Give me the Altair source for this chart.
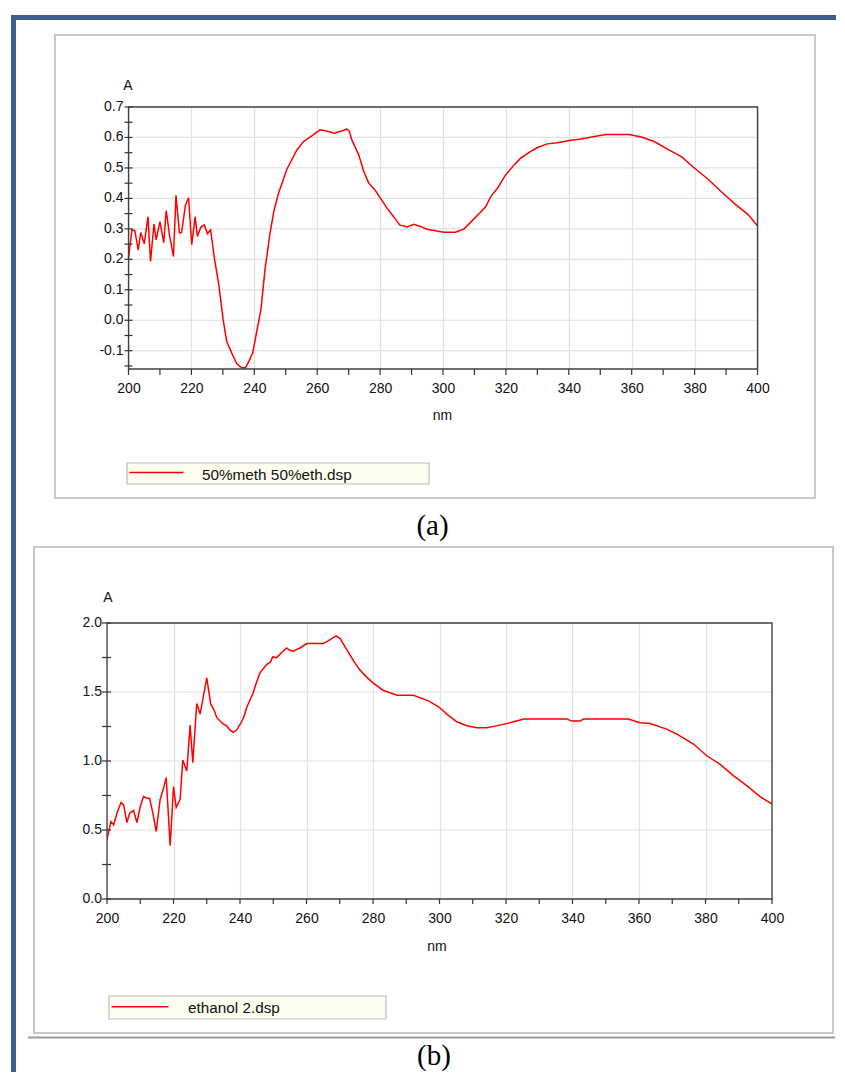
import altair as alt
import pandas as pd

# ---------------- data ----------------
wl_a = [200, 201.1, 202, 203.1, 203.9, 205, 206.2, 207, 208.1, 208.8, 210, 211.2, 212, 213.1,
        214.3, 215.1, 216.2, 216.9, 218.1, 219.1, 220.1, 221.2, 221.9, 223, 224.1, 225.1, 226.1,
        227.4, 228.7, 230.1, 231.2, 232.8, 234.4, 236, 237.2, 238.3, 239.5, 240.7, 242.1, 243.4,
        245, 246.3, 247.7, 249, 250.3, 251.9, 253.5, 255.6, 258.3, 260.9, 263.0, 265.4, 267.8,
        269.4, 270.2, 271, 273.2, 274.8, 276.4, 278.5, 280.1, 282.2, 284.3, 286.2, 288.6, 290.7,
        292.8, 294.9, 297.6, 300.3, 304, 306.7, 309.3, 312, 313.6, 315.2, 317.3, 319.9, 322.6,
        324.7, 327.4, 330, 333.2, 336.4, 340.1, 343.9, 348.1, 351.8, 355.6, 359.3, 363.6, 367.3,
        371.5, 375.8, 380, 384.3, 388.5, 392.8, 397.1, 400]
abs_a = [0.204, 0.297, 0.294, 0.231, 0.288, 0.251, 0.340, 0.193, 0.316, 0.264, 0.324, 0.255,
         0.360, 0.275, 0.209, 0.410, 0.286, 0.288, 0.378, 0.402, 0.248, 0.340, 0.275, 0.305,
         0.313, 0.284, 0.297, 0.198, 0.117, 0.002, -0.069, -0.107, -0.142, -0.156, -0.156,
         -0.134, -0.107, -0.041, 0.035, 0.166, 0.286, 0.362, 0.417, 0.455, 0.495, 0.526, 0.558,
         0.586, 0.605, 0.625, 0.621, 0.614, 0.621, 0.628, 0.621, 0.592, 0.543, 0.488, 0.450,
         0.426, 0.401, 0.368, 0.340, 0.313, 0.306, 0.315, 0.308, 0.299, 0.294, 0.289, 0.289,
         0.300, 0.327, 0.355, 0.373, 0.406, 0.433, 0.477, 0.510, 0.532, 0.551, 0.567, 0.579,
         0.583, 0.590, 0.595, 0.603, 0.610, 0.610, 0.610, 0.600, 0.586, 0.561, 0.537, 0.499,
         0.463, 0.422, 0.382, 0.346, 0.310]

wl_b = [200, 201.2, 202, 203, 204.2, 205, 206, 206.8, 208, 209, 210, 211, 212, 212.8, 213.8,
        214.8, 216, 217, 217.8, 219, 220, 220.8, 222, 222.8, 224, 225, 225.8, 227, 228, 230,
        231.2, 232.2, 233, 234.5, 236, 237, 238, 239, 240.2, 241.2, 242, 243.8, 245, 246, 248,
        249.2, 249.8, 251, 252.2, 253, 254, 255, 256, 258, 260.1, 262.6, 265.1, 267.1, 268.9,
        270.1, 272.2, 273.7, 275.7, 277.7, 280, 283, 287.2, 292.2, 296.7, 299.7, 302.2, 305.2,
        308.2, 311.2, 314.2, 318.2, 321.2, 325.3, 330.3, 338.3, 339.8, 342.3, 343.3, 350.3,
        356.8, 360.3, 363.3, 368.3, 371.4, 376.4, 380.4, 384.4, 388.4, 392.4, 396.4, 400]
abs_b = [0.434, 0.561, 0.537, 0.622, 0.699, 0.682, 0.554, 0.622, 0.641, 0.554, 0.670, 0.742,
         0.730, 0.730, 0.622, 0.489, 0.723, 0.802, 0.880, 0.386, 0.814, 0.663, 0.723, 1.007,
         0.928, 1.260, 0.988, 1.417, 1.340, 1.602, 1.412, 1.369, 1.316, 1.277, 1.253, 1.224,
         1.207, 1.224, 1.272, 1.320, 1.388, 1.484, 1.573, 1.639, 1.699, 1.718, 1.754, 1.749,
         1.778, 1.795, 1.819, 1.802, 1.795, 1.819, 1.851, 1.851, 1.851, 1.880, 1.906, 1.887,
         1.803, 1.743, 1.670, 1.617, 1.566, 1.513, 1.477, 1.477, 1.436, 1.393, 1.340, 1.284,
         1.255, 1.241, 1.241, 1.260, 1.277, 1.304, 1.304, 1.304, 1.289, 1.289, 1.304, 1.304,
         1.304, 1.277, 1.272, 1.231, 1.195, 1.123, 1.038, 0.976, 0.894, 0.822, 0.742, 0.689]

x_domain = [200, 400]
x_labels = [200, 220, 240, 260, 280, 300, 320, 340, 360, 380, 400]
x_ticks = [200, 210, 220, 230, 240, 250, 260, 270, 280, 290, 300, 310, 320, 330, 340, 350,
           360, 370, 380, 390, 400]

ya_domain = [-0.16, 0.7]
ya_labels = [-0.1, 0.0, 0.1, 0.2, 0.3, 0.4, 0.5, 0.6, 0.7]
ya_label_text = ["-0.1", "0.0", "0.1", "0.2", "0.3", "0.4", "0.5", "0.6", "0.7"]
ya_ticks = [-0.15, -0.1, -0.05, 0.0, 0.05, 0.1, 0.15, 0.2, 0.25, 0.3, 0.35, 0.4, 0.45, 0.5,
            0.55, 0.6, 0.65, 0.7]

yb_domain = [0.0, 2.0]
yb_labels = [0.0, 0.5, 1.0, 1.5, 2.0]
yb_label_text = ["0.0", "0.5", "1.0", "1.5", "2.0"]
yb_ticks = [0.0, 0.25, 0.5, 0.75, 1.0, 1.25, 1.5, 1.75, 2.0]

legend_a = "50%meth 50%eth.dsp"
legend_b = "ethanol 2.dsp"
caption_a = "(a)"
caption_b = "(b)"
y_title = "A"
x_title = "nm"

# ---------------- styling ----------------
SANS = "Liberation Sans"
SERIF = "Liberation Serif"
RED = "#ff0000"
BLUE = "#3d5f8d"
BOXGRAY = "#c8c8c8"
TICK = "#333333"
GRID = "#e2e2e2"
FRAME = "#404040"
LABEL = "#111111"
FS = 14
LEG_FS = 15.3
CAP_FS = 29

one = pd.DataFrame({"k": [0]})


def rect(x, x2, y, y2, **kw):
    return alt.Chart(one).mark_rect(**kw).encode(
        x=alt.value(x), x2=alt.value(x2), y=alt.value(y), y2=alt.value(y2))


def hline(x, x2, y, **kw):
    return alt.Chart(one).mark_rule(**kw).encode(
        x=alt.value(x), x2=alt.value(x2), y=alt.value(y))


def txt(s, x, y, **kw):
    return alt.Chart(one).mark_text(text=s, **kw).encode(x=alt.value(x), y=alt.value(y))


def panel(wl, ab, ydom, ylabels, ylabtext, yticks, x0, x1, h, xtick_len, ytick_l, ytick_r):
    """x0/x1: pixel range of the plot inside the (shared-origin) view."""
    xsc = alt.Scale(domain=x_domain, range=[x0, x1], nice=False, zero=False)
    ysc = alt.Scale(domain=ydom, nice=False, zero=False)
    X = alt.X("nm:Q", scale=xsc, title=None,
              axis=alt.Axis(values=x_labels, grid=True, ticks=False, tickSize=0, domain=False,
                            labelPadding=12, labelFlush=False, labelOverlap=False,
                            labelBaseline="top", format="d", title=None))
    Y = alt.Y("A:Q", scale=ysc, title=None, axis=None)
    df = pd.DataFrame({"nm": wl, "A": ab})
    grid_y = alt.Chart(pd.DataFrame({"A": ylabels})).mark_rule(color=GRID, strokeWidth=1.2).encode(
        y=Y, x=alt.value(x0), x2=alt.value(x1))
    line = alt.Chart(df).mark_line(color=RED, strokeWidth=1.5, clip=True).encode(x=X, y=Y)
    xt = alt.Chart(pd.DataFrame({"nm": x_ticks})).mark_rule(color=TICK, strokeWidth=1.2).encode(
        x=X, y=alt.value(h), y2=alt.value(h + xtick_len))
    yt = alt.Chart(pd.DataFrame({"A": yticks})).mark_rule(color=TICK, strokeWidth=1.2).encode(
        y=Y, x=alt.value(x0 - ytick_l), x2=alt.value(x0 + ytick_r))
    ylab = alt.Chart(pd.DataFrame({"A": ylabels, "lab": ylabtext})).mark_text(
        font=SANS, fontSize=FS, color=LABEL, align="right", baseline="middle").encode(
        y=Y, x=alt.value(x0 - 5), text="lab:N")
    frame = rect(x0, x1, 0, h, fill=None, fillOpacity=0, stroke=FRAME, strokeWidth=1.3)
    return [grid_y, line, frame, xt, yt, ylab]


# Both panels share the view origin at page x=107; panel (a)'s plot is inset via its x range.
# ---------------- panel (a) ----------------
HA = 262
A0, A1 = 21.5, 650.5
chart_a = alt.layer(
    rect(-96, -91, -92, 435, color=BLUE),
    rect(-96, 729, -92, -87, color=BLUE),
    rect(-52, 708, -72, 391, fill=None, fillOpacity=0, stroke=BOXGRAY, strokeWidth=2),
    rect(20, 322, 356, 377, fill="#fdfdf0", stroke="#bdbdbd", strokeWidth=1.2),
    hline(22.5, 76.5, 365.5, color=RED, strokeWidth=1.5),
    txt(legend_a, 95, 372.5, font=SANS, fontSize=LEG_FS, align="left", baseline="alphabetic", color=LABEL),
    *panel(wl_a, abs_a, ya_domain, ya_labels, ya_label_text, ya_ticks, A0, A1, HA, 6, 4, 4),
    txt(y_title, 21, -17, font=SANS, fontSize=FS, align="center", baseline="alphabetic", color=LABEL),
    txt(x_title, 335.5, 313, font=SANS, fontSize=FS, align="center", baseline="alphabetic", color=LABEL),
    txt(caption_a, 325.5, 428, font=SERIF, fontSize=CAP_FS, align="center", baseline="alphabetic", color="#000000"),
).properties(width=651, height=HA)

# ---------------- panel (b) ----------------
HB = 276
B0, B1 = 0, 665
chart_b = alt.layer(
    rect(-96, -91, -81, 449, color=BLUE),
    rect(-73, 726, -76, 410, fill=None, fillOpacity=0, stroke=BOXGRAY, strokeWidth=2),
    hline(-79, 728, 414.5, color="#9b9b9b", strokeWidth=2),
    rect(2, 279, 373, 396, fill="#fdfdf0", stroke="#bdbdbd", strokeWidth=1.2),
    hline(4.5, 61.5, 383.7, color=RED, strokeWidth=1.5),
    txt(legend_b, 81, 390, font=SANS, fontSize=LEG_FS, align="left", baseline="alphabetic", color=LABEL),
    *panel(wl_b, abs_b, yb_domain, yb_labels, yb_label_text, yb_ticks, B0, B1, HB, 5, 5, 4),
    txt(y_title, 1, -21, font=SANS, fontSize=FS, align="center", baseline="alphabetic", color=LABEL),
    txt(x_title, 330, 328, font=SANS, fontSize=FS, align="center", baseline="alphabetic", color=LABEL),
    txt(caption_b, 327, 442, font=SERIF, fontSize=CAP_FS, align="center", baseline="alphabetic", color="#000000"),
).properties(width=665, height=HB)

chart = alt.vconcat(chart_a, chart_b, spacing=0).properties(
    padding={"left": 3, "top": 7, "right": 0, "bottom": 0},
    background="white",
).configure_view(
    strokeOpacity=0
).configure_axis(
    labelFont=SANS, labelFontSize=FS, labelColor=LABEL,
    gridColor=GRID, gridWidth=1.2,
)

chart.save("out.html", embed_options={"renderer": "svg", "actions": False})
